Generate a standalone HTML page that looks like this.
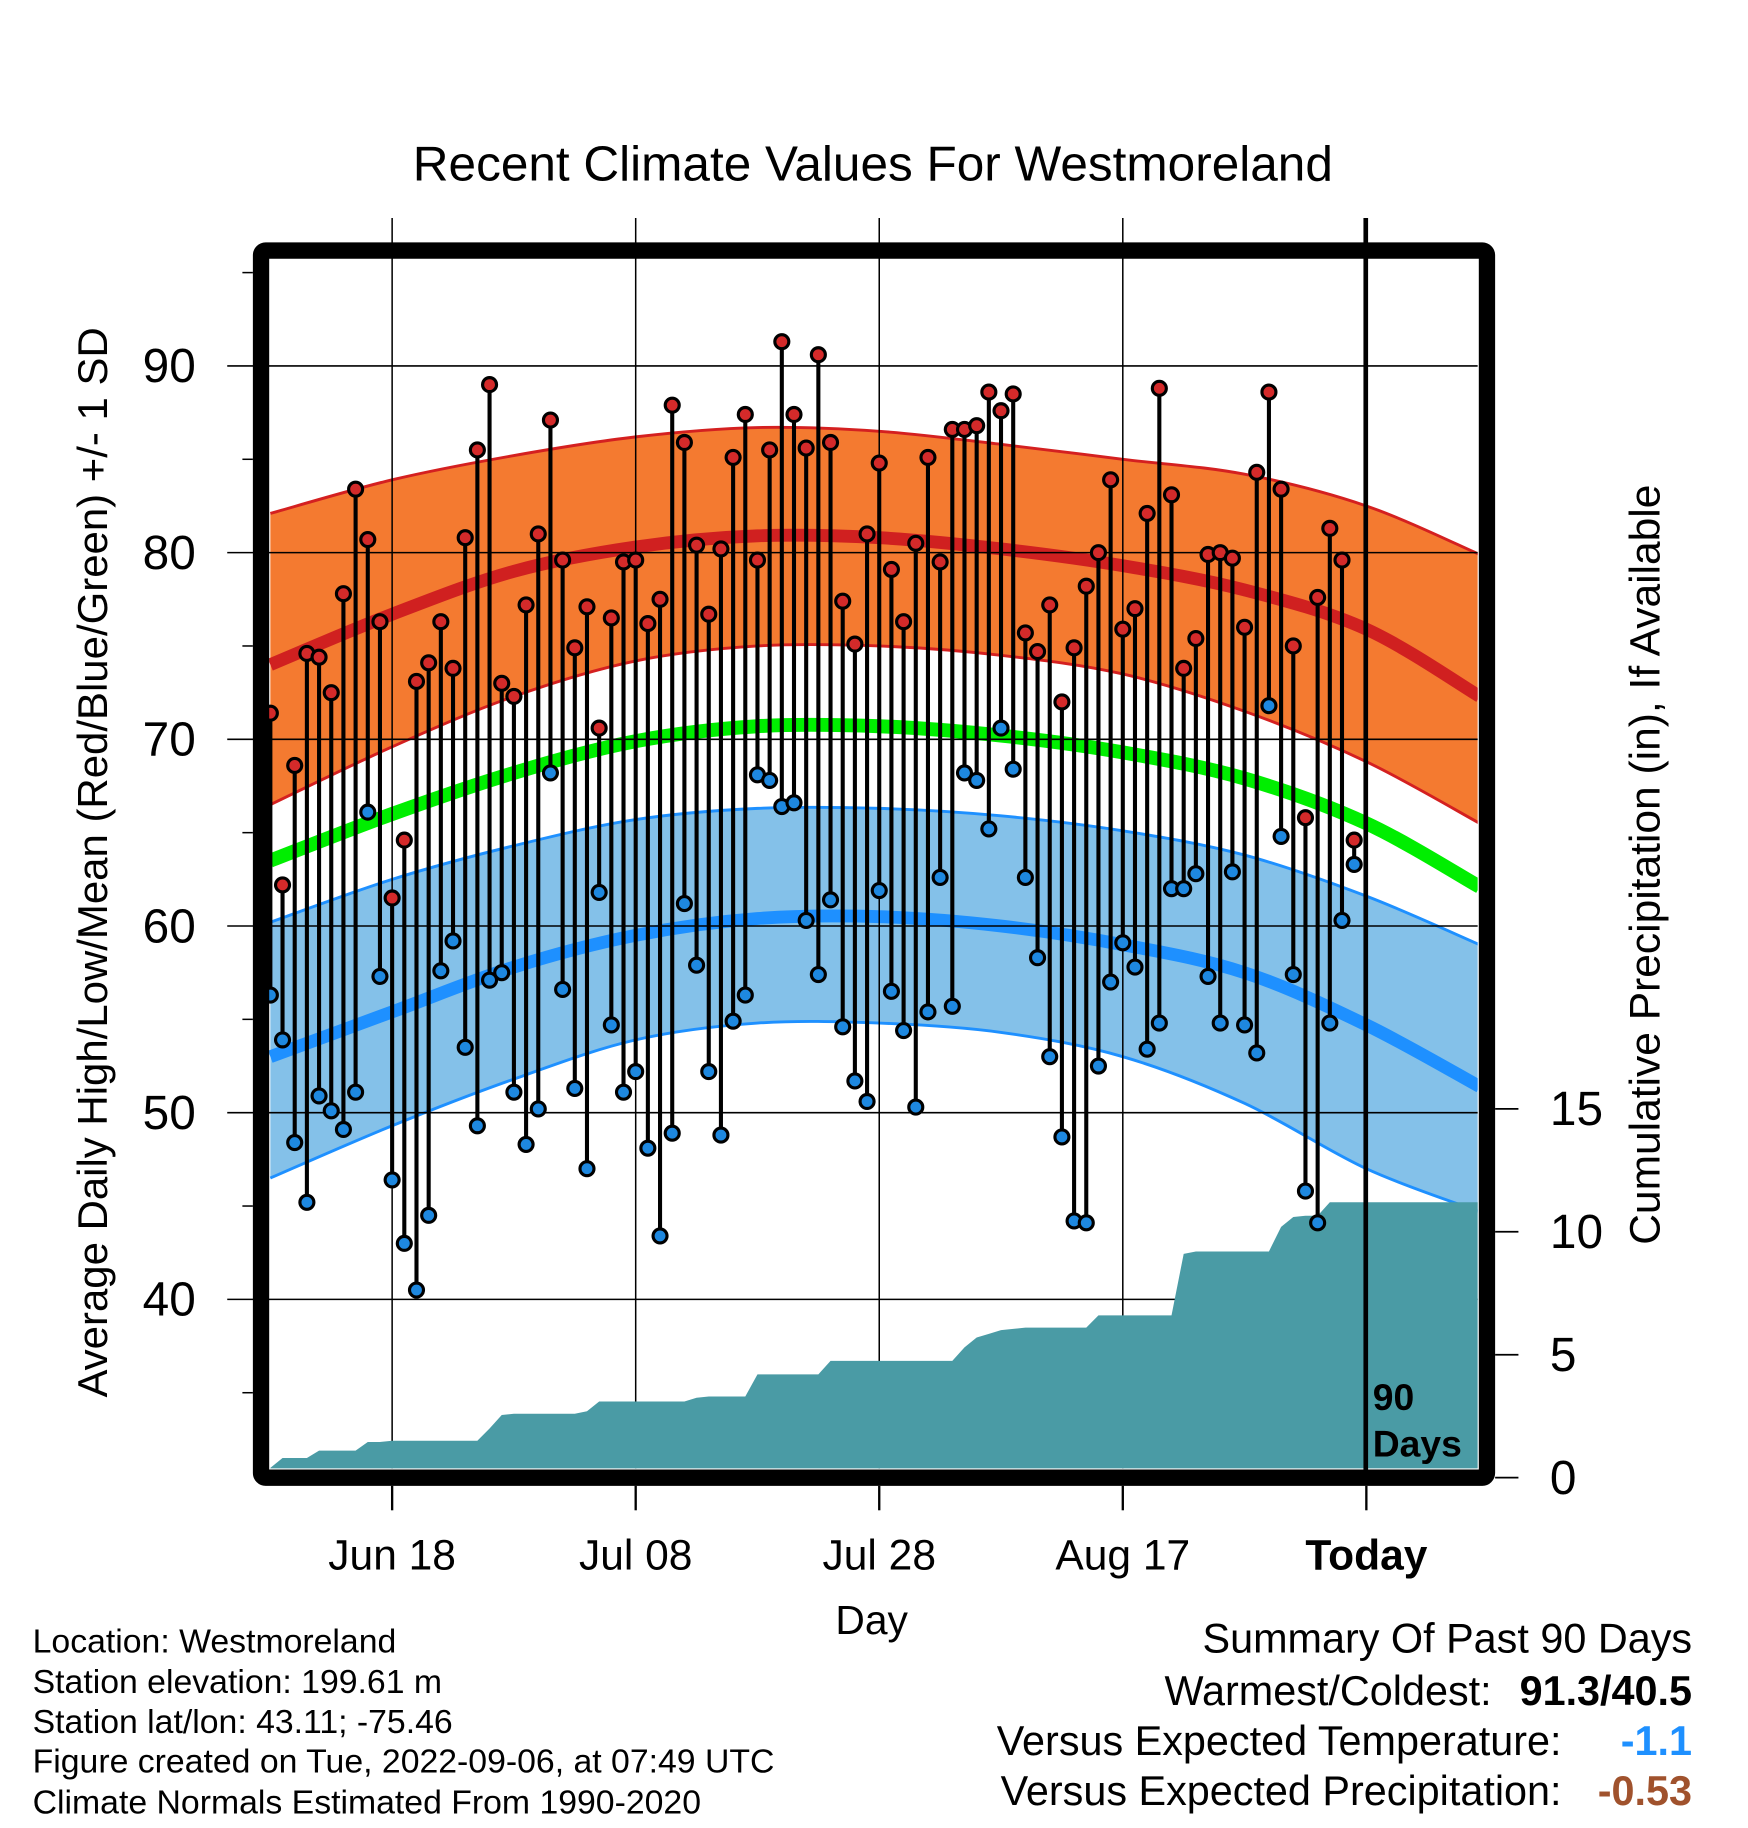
<!DOCTYPE html>
<html><head><meta charset="utf-8"><style>
html,body{margin:0;padding:0;background:#fff;}
svg{display:block;font-family:"Liberation Sans",sans-serif;}
</style></head><body>
<svg id="chart" width="1748" height="1828" viewBox="0 0 1500 1568.6" xmlns="http://www.w3.org/2000/svg">
<defs><clipPath id="plotclip"><rect x="231" y="222" width="1037" height="1038"/></clipPath></defs>
<text x="749" y="155" font-size="42.5" text-anchor="middle">Recent Climate Values For Westmoreland</text>
<g id="bands" clip-path="url(#plotclip)"></g>
<g id="grid"></g>
<g id="precip" clip-path="url(#plotclip)"></g>
<g id="stems"></g>
<line x1="1172" y1="187" x2="1172" y2="1262" stroke="#000" stroke-width="4"/>
<text x="1178" y="1210" font-size="32" font-weight="bold">90</text>
<text x="1178" y="1250" font-size="32" font-weight="bold">Days</text>
<rect x="224" y="215" width="1052" height="1053" fill="none" stroke="#000" stroke-width="14" rx="4"/>
<g id="axes"></g>
<text x="748" y="1402" font-size="35" text-anchor="middle">Day</text>
<text transform="translate(92,740) rotate(-90)" font-size="36" text-anchor="middle">Average Daily High/Low/Mean (Red/Blue/Green) +/- 1 SD</text>
<text transform="translate(1424,742) rotate(-90)" font-size="36.5" text-anchor="middle">Cumulative Precipitation (in), If Available</text>
<g font-size="29">
<text x="28" y="1418">Location: Westmoreland</text>
<text x="28" y="1453">Station elevation: 199.61 m</text>
<text x="28" y="1487">Station lat/lon: 43.11; -75.46</text>
<text x="28" y="1521">Figure created on Tue, 2022-09-06, at 07:49 UTC</text>
<text x="28" y="1556">Climate Normals Estimated From 1990-2020</text>
</g>
<g font-size="35.5">
<text x="1452" y="1418" text-anchor="end">Summary Of Past 90 Days</text>
<text x="1280" y="1463" text-anchor="end">Warmest/Coldest:</text>
<text x="1452" y="1463" text-anchor="end" font-weight="bold">91.3/40.5</text>
<text x="1340" y="1506" text-anchor="end">Versus Expected Temperature:</text>
<text x="1452" y="1506" text-anchor="end" font-weight="bold" fill="#1e90ff">-1.1</text>
<text x="1340" y="1549" text-anchor="end">Versus Expected Precipitation:</text>
<text x="1452" y="1549" text-anchor="end" font-weight="bold" fill="#a0522d">-0.53</text>
</g>
</svg>
<script>
const normDays=[0,10,20,30,40,50,60,70,80,90,99.3];
const highMean=[74.0,76.7,79.0,80.3,80.9,80.8,80.2,79.3,78.0,75.9,72.3];
const highUpper=[82.1,83.9,85.2,86.2,86.7,86.5,85.8,85.0,84.2,82.5,79.9];
const highLower=[66.5,69.6,72.3,74.2,75.0,75.0,74.5,73.5,71.5,68.8,65.5];
const meanNorm=[63.5,66.0,68.2,69.9,70.7,70.7,70.2,69.3,67.9,65.5,62.1];
const lowMean=[53.0,55.4,57.8,59.5,60.4,60.5,60.0,59.0,57.5,54.7,51.4];
const lowUpper=[60.2,62.5,64.3,65.7,66.3,66.3,65.9,65.1,63.8,61.6,59.0];
const lowLower=[46.5,49.3,51.8,53.9,54.8,54.8,54.3,53.0,50.5,47.0,44.7];
const highs=[71.4,62.2,68.6,74.6,74.4,72.5,77.8,83.4,80.7,76.3,61.5,64.6,73.1,74.1,76.3,73.8,80.8,85.5,89.0,73.0,72.3,77.2,81.0,87.1,79.6,74.9,77.1,70.6,76.5,79.5,79.6,76.2,77.5,87.9,85.9,80.4,76.7,80.2,85.1,87.4,79.6,85.5,91.3,87.4,85.6,90.6,85.9,77.4,75.1,81.0,84.8,79.1,76.3,80.5,85.1,79.5,86.6,86.6,86.8,88.6,87.6,88.5,75.7,74.7,77.2,72.0,74.9,78.2,80.0,83.9,75.9,77.0,82.1,88.8,83.1,73.8,75.4,79.9,80.0,79.7,76.0,84.3,88.6,83.4,75.0,65.8,77.6,81.3,79.6,64.6];
const lows=[56.3,53.9,48.4,45.2,50.9,50.1,49.1,51.1,66.1,57.3,46.4,43.0,40.5,44.5,57.6,59.2,53.5,49.3,57.1,57.5,51.1,48.3,50.2,68.2,56.6,51.3,47.0,61.8,54.7,51.1,52.2,48.1,43.4,48.9,61.2,57.9,52.2,48.8,54.9,56.3,68.1,67.8,66.4,66.6,60.3,57.4,61.4,54.6,51.7,50.6,61.9,56.5,54.4,50.3,55.4,62.6,55.7,68.2,67.8,65.2,70.6,68.4,62.6,58.3,53.0,48.7,44.2,44.1,52.5,57.0,59.1,57.8,53.4,54.8,62.0,62.0,62.8,57.3,54.8,62.9,54.7,53.2,71.8,64.8,57.4,45.8,44.1,54.8,60.3,63.3];
const precip=[0.4,0.8,0.8,0.8,1.1,1.1,1.1,1.1,1.45,1.45,1.5,1.5,1.5,1.5,1.5,1.5,1.5,1.5,2.0,2.55,2.6,2.6,2.6,2.6,2.6,2.6,2.7,3.1,3.1,3.1,3.1,3.1,3.1,3.1,3.1,3.25,3.3,3.3,3.3,3.3,4.2,4.2,4.2,4.2,4.2,4.2,4.75,4.75,4.75,4.75,4.75,4.75,4.75,4.75,4.75,4.75,4.75,5.3,5.7,5.85,6.0,6.05,6.1,6.1,6.1,6.1,6.1,6.1,6.6,6.6,6.6,6.6,6.6,6.6,6.6,9.1,9.2,9.2,9.2,9.2,9.2,9.2,9.2,10.2,10.6,10.65,10.65,11.2,11.2,11.2];
const tempTicks=[40,50,60,70,80,90];
const precipTicks=[0,5,10,15];
const dateLabels=["Jun 18","Jul 08","Jul 28","Aug 17","Today"];
const dateDays=[10,30,50,70,90];

const NS="http://www.w3.org/2000/svg";
const xS=d=>232+d*10.45;
const yT=t=>314+(90-t)*16.02;
const yP=p=>1268-p*21.1;
function mk(tag,attrs,parent){const e=document.createElementNS(NS,tag);for(const k in attrs)e.setAttribute(k,attrs[k]);parent.appendChild(e);return e;}
function curvePts(vals){return normDays.map((d,i)=>[xS(d),yT(vals[i])]);}
function smooth(pts){let s="M"+pts[0][0]+","+pts[0][1];for(let i=0;i<pts.length-1;i++){const p0=pts[Math.max(0,i-1)],p1=pts[i],p2=pts[i+1],p3=pts[Math.min(pts.length-1,i+2)];const c1=[p1[0]+(p2[0]-p0[0])/6,p1[1]+(p2[1]-p0[1])/6],c2=[p2[0]-(p3[0]-p1[0])/6,p2[1]-(p3[1]-p1[1])/6];s+=" C"+c1+" "+c2+" "+p2;}return s;}
function band(up,lo,fill,edge,name){const a=smooth(curvePts(up));const bp=curvePts(lo).reverse();const b=smooth(bp).replace(/^M/,"L");
const e=mk("path",{d:a+" "+b+" Z",fill:fill},bands);


[up,lo].forEach(v=>{const l=mk("path",{d:smooth(curvePts(v)),fill:"none",stroke:edge,"stroke-width":2.5},bands);

});}
function line(vals,color,w,name){const l=mk("path",{d:smooth(curvePts(vals)),fill:"none",stroke:color,"stroke-width":w},bands);

}
const bands=document.getElementById("bands");
band(highUpper,highLower,"#f47a30","#d42020","high-sd-band");
band(lowUpper,lowLower,"#84c1e9","#1e90ff","low-sd-band");
line(highMean,"#d02020",11,"high-normal-line");
line(meanNorm,"#00ee00",12,"mean-normal-line");
line(lowMean,"#1e90ff",11,"low-normal-line");

const grid=document.getElementById("grid"),axes=document.getElementById("axes");
tempTicks.forEach(t=>{const g=mk("line",{x1:195,x2:1268,y1:yT(t),y2:yT(t),stroke:"#000","stroke-width":1.3},grid);


const tx=mk("text",{x:168,y:yT(t)+14,"font-size":41,"text-anchor":"end"},axes);tx.textContent=t;

});
for(let t=35;t<=95;t+=10){mk("line",{x1:208,x2:217,y1:yT(t),y2:yT(t),stroke:"#000","stroke-width":1.3},axes);}
dateDays.forEach((d,i)=>{if(i<4){const g=mk("line",{x1:xS(d),x2:xS(d),y1:187,y2:1260,stroke:"#000","stroke-width":1.3},grid);

}
mk("line",{x1:xS(d),x2:xS(d),y1:1275,y2:1296,stroke:"#000","stroke-width":2},axes);
const tx=mk("text",{x:xS(d),y:1347,"font-size":36.5,"text-anchor":"middle"},axes);tx.textContent=dateLabels[i];
if(i===4)tx.setAttribute('font-weight','bold');

});
precipTicks.forEach(p=>{mk("line",{x1:1283,x2:1303,y1:yP(p),y2:yP(p),stroke:"#000","stroke-width":1.5},axes);
const tx=mk("text",{x:1330,y:yP(p)+14,"font-size":41},axes);tx.textContent=p;

});

const pg=document.getElementById("precip");
let d="M"+xS(0)+","+yP(0);precip.forEach((p,i)=>{d+=" L"+xS(i)+","+yP(p);});
d+=" L1270,"+yP(precip[precip.length-1])+" L1270,"+yP(0)+" Z";
const pa=mk("path",{d:d,fill:"#4a9ba5"},pg);



const sg=document.getElementById("stems");
highs.forEach((h,i)=>{const x=xS(i);
const s=mk("line",{x1:x,x2:x,y1:yT(h),y2:yT(lows[i]),stroke:"#000","stroke-width":3.5},sg);


const ch=mk("circle",{cx:x,cy:yT(h),r:6,fill:"#d42a2a",stroke:"#000","stroke-width":2.7},sg);


const cl=mk("circle",{cx:x,cy:yT(lows[i]),r:6,fill:"#1e88e0",stroke:"#000","stroke-width":2.7},sg);

});
</script>
</body></html>
